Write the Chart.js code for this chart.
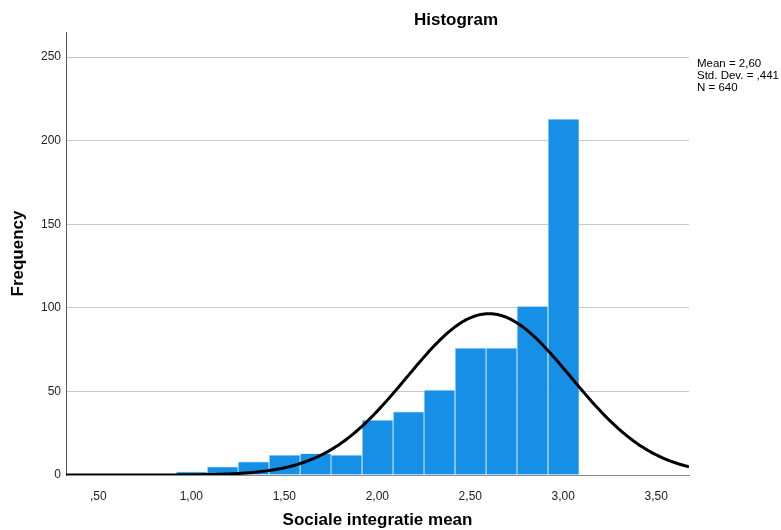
<!DOCTYPE html>
<html>
<head>
<meta charset="utf-8">
<title>Histogram</title>
<script src="https://cdn.jsdelivr.net/npm/chart.js@4.4.1/dist/chart.umd.min.js"></script>
<style>
  html, body { margin: 0; padding: 0; background: #fff; }
  #wrap { width: 781px; height: 530px; }
</style>
</head>
<body>
<div id="wrap"><canvas id="histChart" width="781" height="530"></canvas></div>
<script>
// Histogram bins (midpoints, width 1/6) and their frequencies
const binMids = [1.000, 1.167, 1.333, 1.500, 1.667, 1.833, 2.000, 2.167, 2.333, 2.500, 2.667, 2.833, 3.000];
const binCounts = [2, 5, 8, 12, 13, 12, 33, 38, 51, 76, 76, 101, 213];
const binWidth = 1 / 6;

// Summary statistics shown next to the plot
const statMean = 2.60;
const statSd = 0.441;
const statN = 640;

// Axis ticks and ranges
const xTicks = [0.5, 1.0, 1.5, 2.0, 2.5, 3.0, 3.5];
const yTicks = [0, 50, 100, 150, 200, 250];
const xRange = [0.326, 3.676];
const yMax = 265;

const FONT = '"Liberation Sans", Arial, sans-serif';

// Decimal comma, no leading zero (",50", "2,60")
function fmt(v, digits) {
  let s = v.toFixed(digits).replace('.', ',');
  if (s.startsWith('0,')) s = s.slice(1);
  return s;
}

// Normal curve scaled to the histogram (N * bin width * density)
function normalCurve() {
  const pts = [];
  const k = statN * binWidth / (statSd * Math.sqrt(2 * Math.PI));
  for (let x = xRange[0]; x <= xRange[1] + 1e-9; x += 0.01) {
    const z = (x - statMean) / statSd;
    pts.push({ x: x, y: k * Math.exp(-0.5 * z * z) });
  }
  return pts;
}

// Title and stats box
const annotations = {
  id: 'annotations',
  afterDraw(chart) {
    const ctx = chart.ctx;
    ctx.save();
    ctx.fillStyle = '#000';
    ctx.textBaseline = 'middle';
    ctx.textAlign = 'center';
    ctx.font = 'bold 17px ' + FONT;
    ctx.fillText('Histogram', 456, 20);

    ctx.textAlign = 'left';
    ctx.font = '11.5px ' + FONT;
    const lines = [
      'Mean = ' + fmt(statMean, 2),
      'Std. Dev. = ' + fmt(statSd, 3),
      'N = ' + statN
    ];
    lines.forEach((t, i) => ctx.fillText(t, 697, 64 + i * 12));
    ctx.restore();
  }
};

const barData = binMids.map((m, i) => ({ x: m, y: binCounts[i] }));

new Chart(document.getElementById('histChart'), {
  type: 'bar',
  data: {
    datasets: [
      {
        type: 'line',
        data: normalCurve(),
        borderColor: '#000',
        borderWidth: 3,
        pointRadius: 0,
        tension: 0,
        fill: false,
        order: 0
      },
      {
        type: 'bar',
        data: barData,
        backgroundColor: '#1690e6',
        borderColor: '#e3f1fc',
        borderWidth: { left: 1, top: 1, right: 0, bottom: 0 },
        borderSkipped: false,
        barPercentage: 1.0,
        categoryPercentage: 1.0,
        order: 1
      }
    ]
  },
  options: {
    responsive: false,
    animation: false,
    devicePixelRatio: 1,
    layout: { padding: { top: 32, right: 92, bottom: 0, left: 0 } },
    plugins: {
      legend: { display: false },
      tooltip: { enabled: false },
      title: { display: false }
    },
    scales: {
      x: {
        type: 'linear',
        min: xRange[0],
        max: xRange[1],
        offset: false,
        afterFit: s => { s.height = 55; },
        afterBuildTicks: s => { s.ticks = xTicks.map(v => ({ value: v })); },
        grid: { display: false },
        border: { display: true, color: '#8c8c8c', width: 1 },
        ticks: {
          padding: 6,
          color: '#222',
          font: { family: FONT, size: 12 },
          maxRotation: 0,
          callback: v => fmt(v, 2)
        },
        title: {
          display: true,
          text: 'Sociale integratie mean',
          color: '#000',
          font: { family: FONT, size: 17, weight: 'bold' },
          padding: { top: 0, bottom: -1 }
        }
      },
      y: {
        min: 0,
        max: yMax,
        afterFit: s => { s.width = 66; },
        afterBuildTicks: s => { s.ticks = yTicks.map(v => ({ value: v })); },
        grid: {
          color: '#c8c8c8',
          lineWidth: 1,
          drawTicks: false
        },
        border: { display: true, color: '#555', width: 1 },
        ticks: {
          padding: 5,
          color: '#222',
          font: { family: FONT, size: 12 },
          callback: v => String(v)
        },
        title: {
          display: true,
          text: 'Frequency',
          color: '#000',
          font: { family: FONT, size: 17, weight: 'bold' },
          padding: { top: 8, bottom: 0 }
        }
      }
    }
  },
  plugins: [annotations]
});
</script>
</body>
</html>
